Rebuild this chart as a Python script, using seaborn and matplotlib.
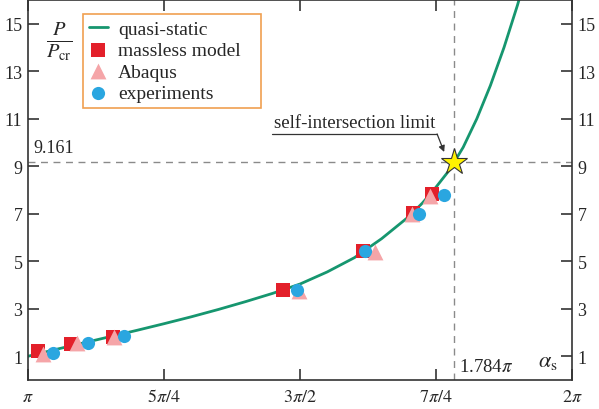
import numpy as np
import pandas as pd
import matplotlib
matplotlib.use('Agg')
import matplotlib.pyplot as plt
import seaborn as sns

# quasi-static curve, alpha_s in units of pi
curve_a = [1.000, 1.050, 1.100, 1.150, 1.200, 1.250, 1.300, 1.350, 1.400, 1.450,
           1.500, 1.550, 1.600, 1.650, 1.700, 1.725, 1.750, 1.775, 1.800, 1.825,
           1.850, 1.875, 1.900, 1.920]
curve_p = [1.00, 1.28, 1.55, 1.82, 2.09, 2.37, 2.66, 2.97, 3.30, 3.65,
           4.04, 4.55, 5.15, 5.95, 6.88, 7.45, 8.12, 8.85, 9.80, 11.0,
           12.4, 14.0, 15.8, 17.4]

# massless model
mass_a = [1.018, 1.079, 1.156, 1.469, 1.616, 1.708, 1.743]
mass_p = [1.22, 1.51, 1.80, 3.78, 5.43, 7.03, 7.83]
# Abaqus
abq_a = [1.028, 1.090, 1.158, 1.498, 1.638, 1.706, 1.739]
abq_p = [1.08, 1.55, 1.80, 3.74, 5.39, 6.99, 7.75]
# experiments
exp_a = [1.046, 1.110, 1.176, 1.494, 1.619, 1.719, 1.765]
exp_p = [1.13, 1.55, 1.84, 3.78, 5.43, 6.99, 7.79]

lim_a = 1.784
lim_p = 9.161

xticks = [1, 1.25, 1.5, 1.75, 2]
xlabels = [r'$\pi$', r'$5\pi/4$', r'$3\pi/2$', r'$7\pi/4$', r'$2\pi$']
yticks = [1, 3, 5, 7, 9, 11, 13, 15]

sns.set_style('ticks')
plt.rcParams['font.family'] = ['Liberation Serif', 'DejaVu Serif']
plt.rcParams['mathtext.fontset'] = 'stix'

green = '#16966f'
red = '#e3202a'
pink = '#f5a5a8'
blue = '#2aa6e0'

fig = plt.figure(figsize=(5.99, 4.10), dpi=100)
ax = fig.add_axes([28 / 599, 1 - 381 / 410, 544 / 599, 380 / 410])

ax.axvline(lim_a, color='#8a8a8a', ls=(0, (5, 4)), lw=1, zorder=1)
ax.axhline(lim_p, color='#8a8a8a', ls=(0, (5, 4)), lw=1, zorder=1)

sns.lineplot(x=curve_a, y=curve_p, color=green, lw=2, ax=ax, zorder=2,
             label='quasi-static', sort=False)
sns.scatterplot(x=mass_a, y=mass_p, marker='s', s=90, color=red, linewidth=0,
                ax=ax, zorder=3, label='massless model')
sns.scatterplot(x=abq_a, y=abq_p, marker='^', s=130, color=pink, linewidth=0,
                ax=ax, zorder=4, label='Abaqus')
sns.scatterplot(x=exp_a, y=exp_p, marker='o', s=90, color=blue, linewidth=0,
                ax=ax, zorder=5, label='experiments')

ax.plot([lim_a], [lim_p], marker='*', ms=20, color='#fff200', mec='#333333',
        mew=0.8, zorder=6)

ax.set_xlim(1, 2)
ax.set_ylim(0, 16)
ax.set_xticks(xticks)
ax.set_xticklabels(xlabels)
ax.set_yticks(yticks)
ax.tick_params(axis='both', direction='in', length=8, width=1.2, labelsize=13,
               top=True, right=True, labelright=True, color='#333333')
ax.tick_params(axis='x', pad=6)
ax.tick_params(axis='y', pad=4)
for sp in ax.spines.values():
    sp.set_linewidth(1.2)
    sp.set_color('#333333')
    sp.set_visible(True)
ax.set_xlabel('')
ax.set_ylabel('')

ax.text(0.057, 0.892, r'$\frac{P}{P_{\mathrm{cr}}}$', transform=ax.transAxes,
        fontsize=21, ha='center', va='center')
ax.text(0.956, 0.05, r'$\alpha_{\mathrm{s}}$', transform=ax.transAxes,
        fontsize=16, ha='center', va='center')
ax.text(1.01, 9.45, '9.161', fontsize=13, ha='left', va='bottom')
ax.text(lim_a + 0.008, 0.55, r'1.784$\pi$', fontsize=13.5, ha='left', va='center')

ax.text(1.4525, 10.5, 'self-intersection limit', fontsize=13.5, ha='left',
        va='bottom')
ax.plot([1.449, 1.752], [10.36, 10.36], color='#333333', lw=0.9, zorder=6)
ax.annotate('', xy=(1.765, 9.6), xytext=(1.752, 10.36),
            arrowprops=dict(arrowstyle='-|>', color='#333333', lw=0.9,
                            mutation_scale=9, shrinkA=0, shrinkB=0))

leg = ax.legend(loc='upper left', bbox_to_anchor=(0.101, 0, 178 / 544, 0.963),
                mode='expand', borderaxespad=0, fontsize=14, frameon=True,
                fancybox=False, edgecolor='#f0a050', framealpha=1,
                handlelength=1.0, handletextpad=0.5, labelspacing=0.2,
                borderpad=0.3, markerscale=1.0)
leg.get_frame().set_linewidth(1.2)

fig.savefig('out.png', dpi=100)
